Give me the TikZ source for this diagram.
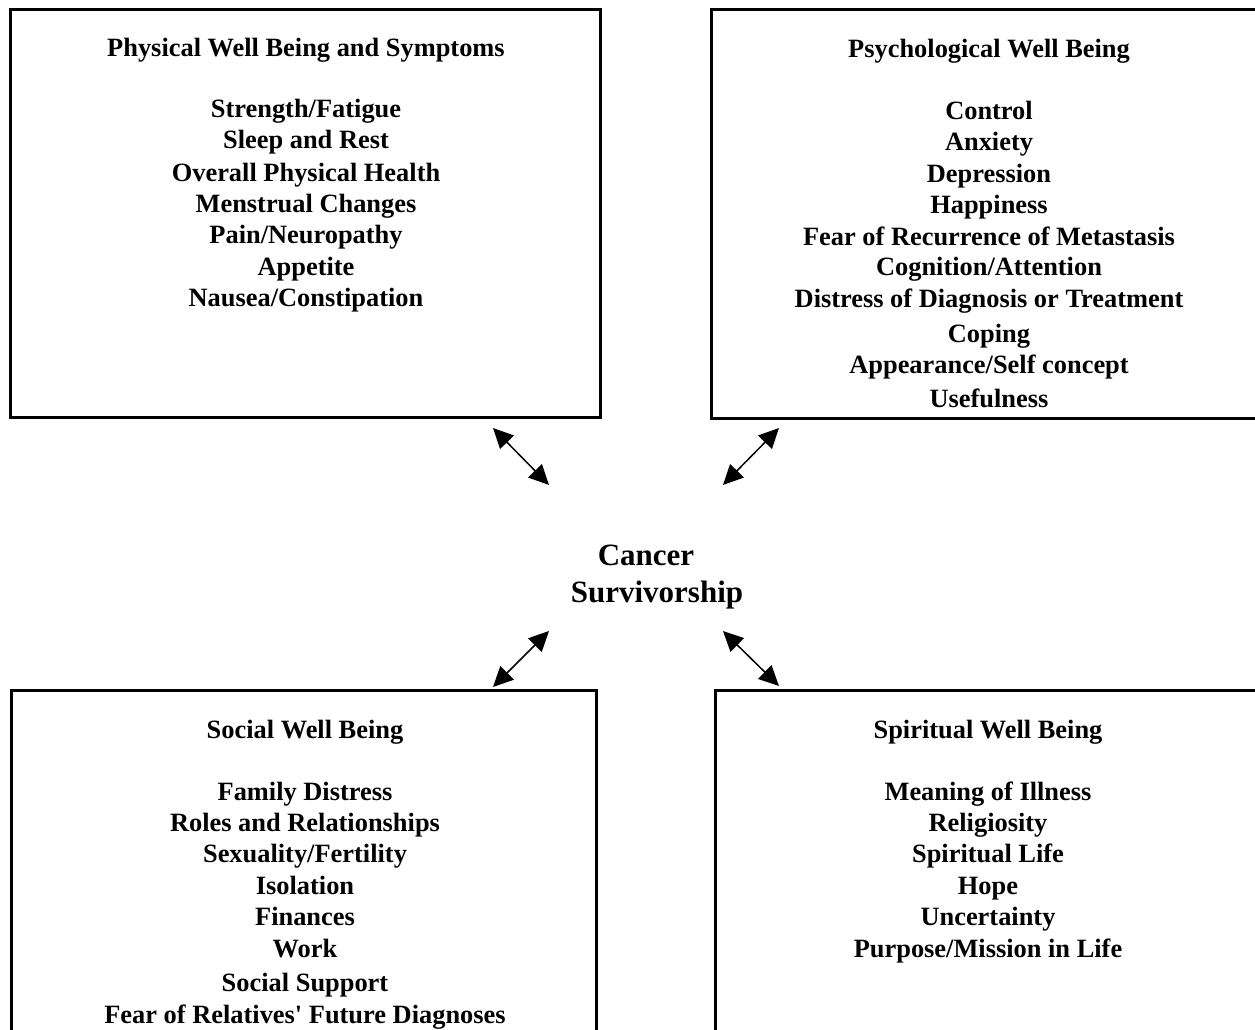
\documentclass[tikz,border=0pt]{standalone}
\usepackage{fontspec}
\setmainfont{Liberation Serif}
\usepackage{tikz}
\usetikzlibrary{positioning, calc, arrows.meta}

\begin{document}
\begin{tikzpicture}[x=1pt, y=-1pt,
        box/.style={line width=3pt},
        link/.style={line width=1.5pt, {Triangle[length=20pt,width=19pt]}-{Triangle[length=20pt,width=19pt]}},
        item/.style={anchor=base, inner sep=0pt, font=\fontsize{26.4}{30}\selectfont\bfseries},
        core/.style={anchor=base, inner sep=0pt, font=\fontsize{31}{36}\selectfont\bfseries}]
        % page size, the boxes run off the right and bottom edges
        \useasboundingbox (0,0) rectangle (1255,1030);
        \clip (0,0) rectangle (1255,1030);

        % the four boxes
        \draw [box] (10,10) rectangle (600,417);
        \draw [box] (711,10) rectangle (1280,418);
        \draw [box] (11,690) rectangle (596,1060);
        \draw [box] (715,690) rectangle (1280,1060);

        % physical
        \node[item] (physT) at (306,57) {Physical Well Being and Symptoms};
        \foreach \y/\t [count=\i] in {118/{Strength/Fatigue}, 149/{Sleep and Rest},
            181/{Overall Physical Health}, 212/{Menstrual Changes}, 243/{Pain/Neuropathy},
            275/{Appetite}, 306/{Nausea/Constipation}}
            \node[item] (phys\i) at (306,\y) {\t};

        % psychological
        \node[item] (psyT) at (989,58) {Psychological Well Being};
        \foreach \y/\t [count=\i] in {120/{Control}, 150/{Anxiety}, 182/{Depression},
            213/{Happiness}, 245/{Fear of Recurrence of Metastasis}, 275/{Cognition/Attention},
            307/{Distress of Diagnosis or Treatment}, 342/{Coping},
            373/{Appearance/Self concept}, 407/{Usefulness}}
            \node[item] (psy\i) at (989,\y) {\t};

        % social
        \node[item] (socT) at (305,738) {Social Well Being};
        \foreach \y/\t [count=\i] in {800/{Family Distress}, 831/{Roles and Relationships},
            862/{Sexuality/Fertility}, 894/{Isolation}, 925/{Finances}, 957/{Work},
            991/{Social Support}, 1023/{Fear of Relatives\textquotesingle{} Future Diagnoses}}
            \node[item] (soc\i) at (305,\y) {\t};

        % spiritual
        \node[item] (spiT) at (988,738) {Spiritual Well Being};
        \foreach \y/\t [count=\i] in {800/{Meaning of Illness}, 831/{Religiosity},
            862/{Spiritual Life}, 894/{Hope}, 925/{Uncertainty},
            957/{Purpose/Mission in Life}}
            \node[item] (spi\i) at (988,\y) {\t};

        % centre
        \node[core] (cancer) at (646,565) {Cancer};
        \node[core] (surv) at (657,602) {Survivorship};

        % arrow ends
        \coordinate (physA) at (493,428);
        \coordinate (physB) at (549,485);
        \coordinate (psyA) at (779,428);
        \coordinate (psyB) at (723,485);
        \coordinate (socA) at (549,631);
        \coordinate (socB) at (493,687);
        \coordinate (spiA) at (723,631);
        \coordinate (spiB) at (779,686);

        % the arrows
        \draw [link] (physA) -- (physB);
        \draw [link] (psyA) -- (psyB);
        \draw [link] (socA) -- (socB);
        \draw [link] (spiA) -- (spiB);
    \end{tikzpicture}
\end{document}
